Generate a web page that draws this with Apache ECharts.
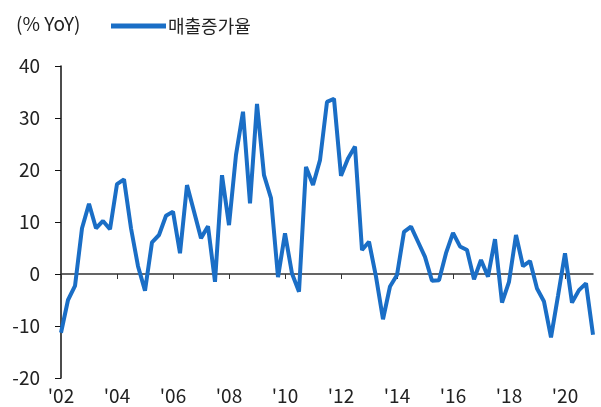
<!DOCTYPE html>
<html>
<head>
<meta charset="utf-8">
<script src="https://cdn.jsdelivr.net/npm/echarts@6/dist/echarts.min.js"></script>
<style>
    html, body {margin: 0; padding: 0; background: #fff;}
    #chart {width: 601px; height: 407px;}
</style>
</head>
<body>
<div id="chart"></div>
<script>
const FONT = '"Noto Sans CJK KR", "Noto Sans", sans-serif';
const LINE_COLOR = '#1a6ec6';

// quarters 2002Q1 .. 2021Q1
const quarters = [
    '02Q1', '02Q2', '02Q3', '02Q4', '03Q1', '03Q2', '03Q3', '03Q4',
    '04Q1', '04Q2', '04Q3', '04Q4', '05Q1', '05Q2', '05Q3', '05Q4',
    '06Q1', '06Q2', '06Q3', '06Q4', '07Q1', '07Q2', '07Q3', '07Q4',
    '08Q1', '08Q2', '08Q3', '08Q4', '09Q1', '09Q2', '09Q3', '09Q4',
    '10Q1', '10Q2', '10Q3', '10Q4', '11Q1', '11Q2', '11Q3', '11Q4',
    '12Q1', '12Q2', '12Q3', '12Q4', '13Q1', '13Q2', '13Q3', '13Q4',
    '14Q1', '14Q2', '14Q3', '14Q4', '15Q1', '15Q2', '15Q3', '15Q4',
    '16Q1', '16Q2', '16Q3', '16Q4', '17Q1', '17Q2', '17Q3', '17Q4',
    '18Q1', '18Q2', '18Q3', '18Q4', '19Q1', '19Q2', '19Q3', '19Q4',
    '20Q1', '20Q2', '20Q3', '20Q4', '21Q1'
];

// 매출증가율 (% YoY)
const salesGrowth = [
    -11.3, -5.0, -2.3, 8.8, 13.5, 8.8, 10.2, 8.6,
    17.3, 18.2, 8.8, 1.5, -3.2, 6.1, 7.5, 11.2,
    12.0, 4.0, 17.1, 12.0, 6.9, 9.2, -1.5, 19.0,
    9.4, 22.9, 31.2, 13.6, 32.7, 19.0, 14.6, -0.6,
    7.8, 0.1, -3.4, 20.6, 17.1, 21.9, 33.1, 33.7,
    18.9, 22.2, 24.5, 4.6, 6.2, -0.5, -8.7, -2.4,
    -0.2, 8.1, 9.1, 6.2, 3.3, -1.3, -1.2, 4.0,
    7.9, 5.3, 4.6, -1.0, 2.7, -0.5, 6.7, -5.5,
    -1.5, 7.5, 1.5, 2.5, -2.8, -5.3, -12.2, -4.2,
    4.0, -5.5, -3.1, -1.8, -11.7
];

const yMin = -20, yMax = 40, yStep = 10;

let myChart = echarts.init(document.getElementById('chart'));

function yearLabel(value, idx) {
    return "'" + value.substring(0, 2);
}

let option = {
    animation: false,
    textStyle: {fontFamily: FONT},
    title: {
        text: '(% YoY)',
        left: 11,
        top: 9,
        textStyle: {fontFamily: FONT, fontSize: 19, fontWeight: 'normal', color: '#222'}
    },
    legend: {
        left: 106,
        top: 12,
        itemWidth: 55,
        itemHeight: 5,
        itemGap: 2,
        icon: 'rect',
        textStyle: {fontFamily: FONT, fontSize: 18, color: '#222', padding: [0, 0, 0, -3]},
        data: ['매출증가율']
    },
    grid: {left: 61, right: 8, top: 66, bottom: 29, containLabel: false},
    xAxis: [
        {
            type: 'category',
            data: quarters,
            boundaryGap: false,
            position: 'bottom',
            axisLine: {show: false, onZero: false},
            axisTick: {show: false},
            splitLine: {show: false},
            axisLabel: {
                interval: 7,
                margin: 8,
                fontSize: 19,
                color: '#222',
                fontFamily: FONT,
                formatter: yearLabel
            }
        },
        {
            type: 'category',
            data: quarters,
            boundaryGap: false,
            position: 'bottom',
            axisLine: {show: true, onZero: true, lineStyle: {color: '#333', width: 1.5}},
            axisTick: {show: true, interval: 7, length: 5, lineStyle: {color: '#333', width: 1}},
            axisLabel: {show: false},
            splitLine: {show: false}
        }
    ],
    yAxis: {
        type: 'value',
        min: yMin,
        max: yMax,
        interval: yStep,
        axisLine: {show: true, lineStyle: {color: '#111', width: 1.5}},
        axisTick: {show: true, length: 6, lineStyle: {color: '#111'}},
        splitLine: {show: false},
        axisLabel: {margin: 21, fontSize: 19, color: '#222', fontFamily: FONT}
    },
    series: [
        {
            name: '매출증가율',
            type: 'line',
            xAxisIndex: 0,
            data: salesGrowth,
            symbol: 'none',
            color: LINE_COLOR,
            lineStyle: {color: LINE_COLOR, width: 4}
        }
    ]
};

myChart.setOption(option);
</script>
</body>
</html>
